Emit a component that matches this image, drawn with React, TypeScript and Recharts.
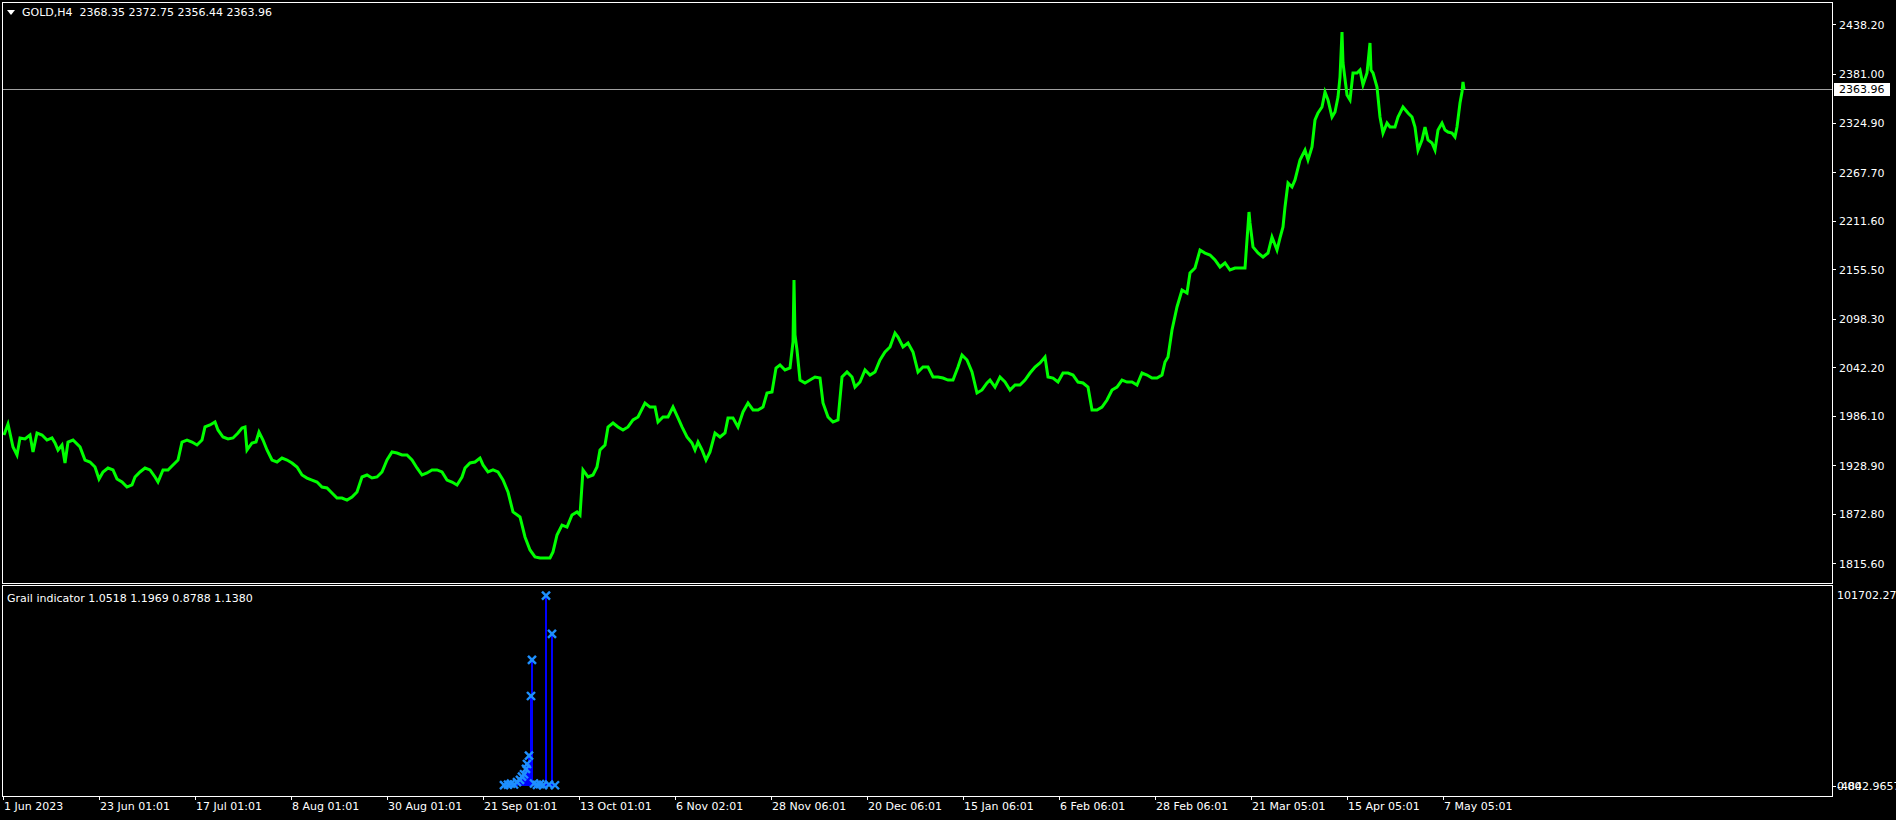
import React from 'react';
import { LineChart, Line, XAxis, YAxis, ReferenceLine, ComposedChart, Scatter } from 'recharts';

const FONT = '"DejaVu Sans", Verdana, sans-serif';

// GOLD H4 closes, sampled bar index (bars counted from 1 Jun 2023) and price
const priceBar = [
  0, 4, 9, 13, 16, 21, 26, 29, 33, 38, 43, 48, 51, 54, 58, 61, 64, 69, 76, 81, 86, 91, 95, 99, 104, 109, 113, 118, 123, 128,
  131, 136, 141, 146, 151, 154, 159, 164, 169, 174, 178, 183, 188, 193, 198, 201, 206, 211, 214, 219, 224, 229, 234, 238, 241, 243, 248, 252, 255, 259,
  263, 268, 273, 278, 283, 288, 293, 298, 303, 308, 313, 318, 323, 328, 333, 338, 343, 348, 353, 358, 363, 368, 373, 378, 383, 388, 393, 398, 403, 408,
  413, 418, 423, 428, 433, 438, 443, 448, 453, 458, 461, 466, 471, 476, 479, 484, 489, 494, 499, 504, 509, 516, 521, 526, 531, 536, 541, 546, 549, 553,
  558, 563, 568, 573, 576, 579, 584, 589, 593, 596, 601, 604, 609, 614, 619, 624, 629, 634, 641, 646, 651, 654, 659, 664, 669, 674, 678, 683, 688, 691,
  694, 698, 702, 706, 711, 716, 721, 724, 729, 734, 739, 744, 749, 754, 759, 763, 768, 772, 776, 781, 786, 789, 790, 791, 793, 796, 801, 806, 811, 816,
  819, 824, 829, 834, 838, 843, 848, 851, 856, 861, 866, 871, 876, 881, 886, 891, 894, 899, 904, 909, 914, 919, 924, 929, 934, 939, 944, 949, 954, 958,
  963, 968, 973, 978, 983, 986, 991, 996, 1001, 1006, 1011, 1016, 1021, 1026, 1031, 1036, 1041, 1044, 1049, 1054, 1059, 1064, 1069, 1074, 1079, 1084, 1088, 1093, 1098, 1103,
  1108, 1113, 1118, 1123, 1128, 1133, 1138, 1143, 1148, 1153, 1158, 1161, 1164, 1168, 1173, 1178, 1183, 1186, 1191, 1196, 1201, 1206, 1211, 1216, 1221, 1226, 1231, 1236, 1241, 1245,
  1246, 1249, 1254, 1259, 1264, 1268, 1273, 1276, 1279, 1281, 1284, 1288, 1291, 1296, 1301, 1304, 1308, 1311, 1314, 1318, 1321, 1324, 1328, 1331, 1334, 1336, 1338, 1339, 1343, 1346,
  1349, 1353, 1356, 1359, 1363, 1366, 1367, 1369, 1373, 1376, 1379, 1383, 1386, 1391, 1394, 1399, 1404, 1408, 1411, 1414, 1418, 1421, 1424, 1428, 1431, 1434, 1438, 1441, 1444, 1448,
  1451, 1453, 1456, 1458, 1459, 1460,
];
const priceClose = [
  1964.6, 1977.3, 1950.8, 1941.5, 1961.2, 1960.0, 1964.6, 1945.0, 1966.9, 1964.6, 1958.8, 1961.2, 1955.4, 1947.3, 1953.1, 1932.3, 1956.5, 1958.8, 1950.8, 1935.7, 1933.4, 1927.6, 1913.8, 1921.9, 1926.5, 1924.2, 1913.8, 1910.3, 1904.5, 1906.9,
  1916.1, 1921.9, 1926.5, 1924.2, 1916.1, 1910.3, 1924.2, 1924.2, 1930.0, 1935.7, 1956.5, 1958.8, 1956.5, 1953.1, 1958.8, 1973.9, 1976.2, 1979.6, 1970.4, 1962.3, 1960.0, 1961.2, 1966.9, 1972.7, 1973.9, 1947.3, 1955.4, 1956.5, 1968.1, 1958.8,
  1947.3, 1935.7, 1933.4, 1938.0, 1935.7, 1932.3, 1927.6, 1918.4, 1914.9, 1912.6, 1910.3, 1904.5, 1903.4, 1897.6, 1891.8, 1891.8, 1889.5, 1893.0, 1898.8, 1916.1, 1918.4, 1914.9, 1916.1, 1921.9, 1935.7, 1945.0, 1943.8, 1941.5, 1941.5, 1935.7,
  1926.5, 1918.4, 1920.7, 1924.2, 1924.2, 1921.9, 1912.6, 1910.3, 1906.9, 1916.1, 1926.5, 1932.3, 1933.4, 1938.0, 1930.0, 1921.9, 1924.2, 1921.9, 1912.6, 1898.8, 1875.7, 1869.9, 1846.8, 1831.8, 1823.7, 1822.5, 1822.5, 1822.5, 1829.5, 1849.1,
  1860.6, 1858.3, 1872.2, 1875.7, 1872.2, 1924.2, 1916.1, 1918.4, 1927.6, 1947.3, 1953.1, 1973.9, 1978.5, 1973.9, 1970.4, 1973.9, 1982.0, 1985.4, 2001.6, 1996.9, 1996.9, 1979.6, 1985.4, 1985.4, 1996.9, 1984.3, 1973.9, 1962.3, 1955.4, 1947.3,
  1956.5, 1947.3, 1935.7, 1945.0, 1966.9, 1962.3, 1966.9, 1984.3, 1984.3, 1973.9, 1991.2, 2001.6, 1993.5, 1993.5, 1996.9, 2013.1, 2014.3, 2042.0, 2045.5, 2039.7, 2042.0, 2072.0, 2143.7, 2080.1, 2062.8, 2028.1, 2024.7, 2028.1, 2031.6, 2030.4,
  2001.6, 1985.4, 1979.6, 1982.0, 2031.6, 2037.4, 2031.6, 2020.0, 2025.8, 2039.7, 2033.9, 2037.4, 2051.2, 2060.5, 2066.3, 2082.4, 2077.8, 2066.3, 2070.9, 2060.5, 2037.4, 2043.2, 2043.2, 2031.6, 2031.6, 2030.4, 2028.1, 2028.1, 2043.2, 2057.0,
  2051.2, 2037.4, 2013.1, 2016.6, 2024.7, 2028.1, 2020.0, 2031.6, 2025.8, 2016.6, 2022.4, 2022.4, 2028.1, 2036.2, 2043.2, 2047.8, 2054.7, 2031.6, 2030.4, 2025.8, 2036.2, 2036.2, 2033.9, 2025.8, 2024.7, 2020.0, 1993.5, 1993.5, 1996.9, 2005.0,
  2016.6, 2020.0, 2028.1, 2025.8, 2025.8, 2022.4, 2036.2, 2033.9, 2030.4, 2030.4, 2033.9, 2048.9, 2054.7, 2085.9, 2112.5, 2132.1, 2128.6, 2151.7, 2157.5, 2178.3, 2174.8, 2172.5, 2166.8, 2158.7, 2163.3, 2155.2, 2157.5, 2157.5, 2157.5, 2222.2,
  2209.5, 2181.8, 2174.8, 2170.2, 2174.8, 2193.3, 2178.3, 2192.2, 2204.9, 2228.0, 2255.7, 2251.1, 2259.2, 2282.3, 2293.8, 2282.3, 2297.3, 2328.5, 2336.6, 2343.5, 2360.8, 2351.6, 2331.9, 2337.7, 2355.0, 2378.1, 2430.1, 2394.3, 2357.3, 2351.6,
  2382.8, 2382.8, 2386.2, 2368.9, 2382.8, 2417.4, 2386.2, 2382.8, 2366.6, 2331.9, 2313.4, 2325.0, 2320.4, 2320.4, 2331.9, 2343.5, 2336.6, 2331.9, 2320.4, 2293.8, 2305.4, 2320.4, 2305.4, 2301.9, 2293.8, 2316.9, 2325.0, 2316.9, 2314.6, 2313.4,
  2308.8, 2320.4, 2348.1, 2360.8, 2372.4, 2363.96,
];
const lastPrice = 2363.96;
const priceTicks = [1815.6, 1872.8, 1928.9, 1986.1, 2042.2, 2098.3, 2155.5, 2211.6, 2267.7, 2324.9, 2381.0, 2438.2];
const priceDomain = [1793.65, 2463.61];

const timeTickBars = [-1, 95, 191, 287, 383, 479, 575, 671, 767, 863, 959, 1055, 1151, 1247, 1343, 1439];
const timeTickLabels = [
  '1 Jun 2023', '23 Jun 01:01', '17 Jul 01:01', '8 Aug 01:01', '30 Aug 01:01', '21 Sep 01:01', '13 Oct 01:01', '6 Nov 02:01',
  '28 Nov 06:01', '20 Dec 06:01', '15 Jan 06:01', '6 Feb 06:01', '28 Feb 06:01', '21 Mar 05:01', '15 Apr 05:01', '7 May 05:01',
];

// Grail indicator values
const grailBar = [500, 504, 507, 510, 513, 516, 518, 520, 522, 523, 525, 527, 528, 530, 533, 536, 539, 542, 545, 548, 551];
const grailValue = [700, 900, 1400, 1000, 2200, 3300, 5000, 6200, 8900, 11400, 15600, 45900, 64200, 1500, 800, 1200, 700, 96800, 900, 77400, 600];
const grailMin = -4842.9657;
const grailMax = 101702.27;

const priceData = priceBar.map((b, i) => ({ b, p: priceClose[i] }));
const grailData = grailBar.map((b, i) => ({ b, v: grailValue[i] }));

const PriceTick = (props: any) => {
  const { x, y, payload } = props;
  const v = payload.value;
  if (v === lastPrice) {
    return (
      <g>
        <rect x={x - 5} y={y - 6.5} width={56} height={13} fill="#ffffff" />
        <text x={x} y={y} dy="0.36em" fill="#000000" fontSize={11} fontFamily={FONT}>{v.toFixed(2)}</text>
      </g>
    );
  }
  return (
    <g>
      <line x1={x - 7} x2={x - 3} y1={y} y2={y} stroke="#ffffff" />
      <text x={x} y={y} dy="0.36em" fill="#ffffff" fontSize={11} fontFamily={FONT}>{v.toFixed(2)}</text>
    </g>
  );
};

const GrailTick = (props: any) => {
  const { x, y, payload } = props;
  const v = payload.value;
  if (v === 0) {
    return (
      <g>
        <line x1={x - 5} x2={x - 1} y1={y} y2={y} stroke="#ffffff" />
        <text x={x} y={y} dy="0.36em" fill="#ffffff" fontSize={11} fontFamily={FONT}>0.00</text>
        <text x={x} y={y} dy="0.36em" fill="#ffffff" fontSize={11} fontFamily={FONT}>{grailMin.toFixed(4)}</text>
      </g>
    );
  }
  return (
    <text x={x} y={y + 9} dy="0.36em" fill="#ffffff" fontSize={11} fontFamily={FONT}>{v.toFixed(2)}</text>
  );
};

const TimeTick = (props: any) => {
  const { x, y, payload } = props;
  const idx = timeTickBars.indexOf(payload.value);
  const label = idx >= 0 ? timeTickLabels[idx] : '';
  return (
    <g>
      <line x1={x} x2={x} y1={y - 6} y2={y - 2} stroke="#ffffff" />
      <text x={x + 1} y={y} dy="0.75em" fill="#ffffff" fontSize={11} fontFamily={FONT}>{label}</text>
    </g>
  );
};

const CrossShape = (props: any) => {
  const { cx, cy } = props;
  if (cx == null || cy == null) return <g />;
  const r = 4;
  return (
    <g stroke="#1e90ff" strokeWidth={2.4} style={{ shapeRendering: 'auto' }}>
      <line x1={cx - r} y1={cy - r} x2={cx + r} y2={cy + r} />
      <line x1={cx - r} y1={cy + r} x2={cx + r} y2={cy - r} />
    </g>
  );
};

export default function App() {
  return (
    <div style={{ position: 'absolute', left: 0, top: 0, width: 1896, height: 820, background: '#000000', overflow: 'hidden', fontFamily: FONT }}>
      <div style={{ position: 'absolute', left: 0, top: 0 }}>
        <LineChart width={1896} height={583} data={priceData} margin={{ top: 3, right: 0, bottom: 0, left: 3 }} style={{ shapeRendering: 'crispEdges' } as any}>
          <XAxis type="number" dataKey="b" domain={[-1, 1828]} allowDataOverflow hide />
          <YAxis
            orientation="right"
            width={64}
            domain={priceDomain}
            allowDataOverflow
            ticks={[...priceTicks, lastPrice]}
            interval={0}
            axisLine={false}
            tickLine={false}
            tickSize={4}
            tickMargin={3}
            tick={PriceTick}
          />
          <ReferenceLine y={lastPrice} stroke="#a0a0a0" strokeWidth={1} />
          <Line type="linear" dataKey="p" stroke="#00ff00" strokeWidth={3} strokeLinejoin="miter" dot={false} isAnimationActive={false} style={{ shapeRendering: 'auto' } as any} />
        </LineChart>
      </div>
      <div style={{ position: 'absolute', left: 0, top: 585 }}>
        <ComposedChart width={1896} height={235} data={grailData} margin={{ top: 1, right: 0, bottom: 0, left: 3 }} style={{ shapeRendering: 'crispEdges' } as any}>
          <XAxis
            type="number"
            dataKey="b"
            domain={[-1, 1828]}
            allowDataOverflow
            ticks={timeTickBars}
            interval={0}
            height={24}
            axisLine={false}
            tickLine={false}
            tickSize={4}
            tickMargin={2}
            tick={TimeTick}
          />
          <YAxis
            orientation="right"
            dataKey="v"
            width={64}
            domain={[grailMin, grailMax]}
            allowDataOverflow
            ticks={[0, grailMax]}
            interval={0}
            axisLine={false}
            tickLine={false}
            tickSize={4}
            tickMargin={1}
            tick={GrailTick}
          />
          {grailData.map((d) => (
            <ReferenceLine
              key={'h' + d.b}
              segment={[{ x: d.b, y: 0 }, { x: d.b, y: d.v }]}
              stroke="#0000ff"
              strokeWidth={1.5}
              ifOverflow="visible"
            />
          ))}
          <Scatter dataKey="v" shape={CrossShape} isAnimationActive={false} />
        </ComposedChart>
      </div>
      {/* panel frames */}
      <div style={{ position: 'absolute', left: 2, top: 2, width: 1831, height: 582, border: '1px solid #ffffff', boxSizing: 'border-box', pointerEvents: 'none' }} />
      <div style={{ position: 'absolute', left: 2, top: 585, width: 1831, height: 212, border: '1px solid #ffffff', boxSizing: 'border-box', pointerEvents: 'none' }} />
      {/* headers */}
      <svg style={{ position: 'absolute', left: 0, top: 0 }} width={20} height={20}>
        <polygon points="7,10 15,10 11,15" fill="#ffffff" />
      </svg>
      <div style={{ position: 'absolute', left: 22, top: 6, fontSize: 11, lineHeight: '13px', color: '#ffffff', whiteSpace: 'pre', fontFamily: FONT }}>
        {'GOLD,H4  2368.35 2372.75 2356.44 2363.96'}
      </div>
      <div style={{ position: 'absolute', left: 7, top: 592, fontSize: 11, lineHeight: '13px', color: '#ffffff', whiteSpace: 'pre', fontFamily: FONT }}>
        {'Grail indicator 1.0518 1.1969 0.8788 1.1380'}
      </div>
    </div>
  );
}
